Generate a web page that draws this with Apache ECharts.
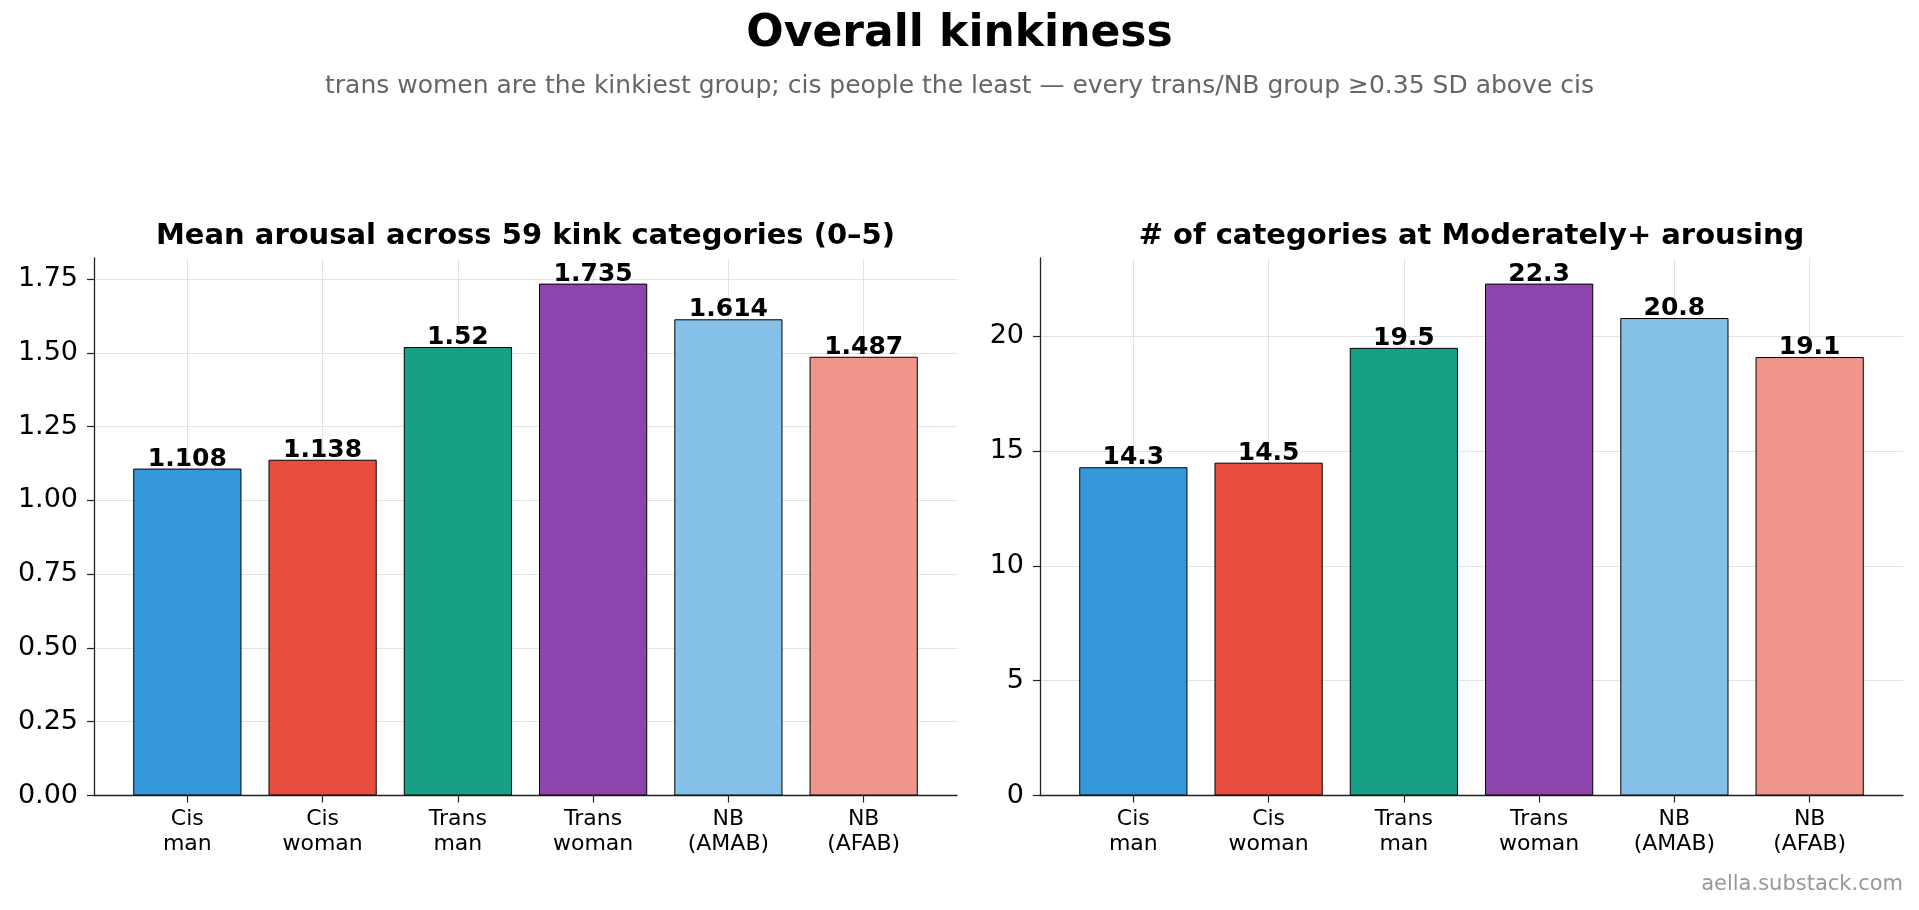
<!DOCTYPE html>
<html>
<head>
<meta charset="utf-8">
<title>Overall kinkiness</title>
<script src="https://cdn.jsdelivr.net/npm/echarts@6/dist/echarts.min.js"></script>
<style>
  html, body { margin: 0; padding: 0; background: #fff; }
  #chart { width: 1919px; height: 910px; }
</style>
</head>
<body>
<div id="chart"></div>
<script>
// data
const categories = ["Cis\nman", "Cis\nwoman", "Trans\nman", "Trans\nwoman", "NB\n(AMAB)", "NB\n(AFAB)"];
const barColors = ["#3498db", "#e74c3c", "#16a085", "#8e44ad", "#85c1e9", "#f1948a"];
const meanArousal = [1.108, 1.138, 1.52, 1.735, 1.614, 1.487];
const moderateCounts = [14.3, 14.5, 19.5, 22.3, 20.8, 19.1];
const meanTicks = [0, 0.25, 0.5, 0.75, 1.0, 1.25, 1.5, 1.75];
const countTicks = [0, 5, 10, 15, 20];

const font = "DejaVu Sans";
const catPositions = categories.map((c, i) => i);
const xMin = -0.69, xMax = 5.69;

const plotTop = 258, plotHeight = 537.5, plotWidth = 863;
const leftX = [94, 1040];
const barWidth = 0.8 * plotWidth / (xMax - xMin);

const chart = echarts.init(document.getElementById("chart"));

function makeX(gridIndex) {
	return {
		type: "value",
		gridIndex: gridIndex,
		min: xMin,
		max: xMax,
		axisLine: { show: true, onZero: false, lineStyle: { color: "#222", width: 1.3 } },
		axisTick: { show: true, customValues: catPositions, length: 7, lineStyle: { color: "#222", width: 1.2 } },
		axisLabel: {
			customValues: catPositions,
			formatter: (v) => categories[Math.round(v)],
			fontFamily: font,
			fontSize: 22,
			lineHeight: 25,
			color: "#000",
			margin: 11,
		},
		splitLine: { show: true, lineStyle: { color: "#e3e3e3", width: 1 } },
	};
}

function makeY(gridIndex, max, ticks, digits) {
	return {
		type: "value",
		gridIndex: gridIndex,
		min: 0,
		max: max,
		axisLine: { show: true, onZero: false, lineStyle: { color: "#222", width: 1.3 } },
		axisTick: { show: true, customValues: ticks, length: 7, lineStyle: { color: "#222", width: 1.2 } },
		axisLabel: {
			customValues: ticks,
			formatter: (v) => v.toFixed(digits),
			fontFamily: font,
			fontSize: 27,
			color: "#000",
			margin: 16,
		},
		splitLine: { show: true, lineStyle: { color: "#e3e3e3", width: 1 } },
	};
}

function makeSeries(values, axisIndex) {
	return {
		type: "bar",
		xAxisIndex: axisIndex,
		yAxisIndex: axisIndex,
		barWidth: barWidth,
		data: values.map((v, i) => ({ value: [i, v], itemStyle: { color: barColors[i] } })),
		itemStyle: { borderColor: "#000", borderWidth: 1 },
		label: {
			show: true,
			position: "top",
			distance: -3,
			formatter: (p) => String(p.value[1]),
			fontFamily: font,
			fontWeight: "bold",
			fontSize: 25,
			color: "#000",
		},
	};
}

function text(x, y, str, size, weight, color, align) {
	return {
		type: "text",
		x: x,
		y: y,
		style: {
			text: str,
			font: weight + " " + size + "px '" + font + "'",
			fill: color,
			textAlign: align || "center",
			textVerticalAlign: "middle",
		},
	};
}

const option = {
	animation: false,
	backgroundColor: "#fff",
	grid: [
		{ left: leftX[0], top: plotTop, width: plotWidth, height: plotHeight },
		{ left: leftX[1], top: plotTop, width: plotWidth, height: plotHeight },
	],
	xAxis: [makeX(0), makeX(1)],
	yAxis: [
		makeY(0, 1.735 * 1.05, meanTicks, 2),
		makeY(1, 22.3 * 1.05, countTicks, 0),
	],
	series: [makeSeries(meanArousal, 0), makeSeries(moderateCounts, 1)],
	graphic: [
		text(959.5, 35, "Overall kinkiness", 44, "bold", "#000"),
		text(959.5, 86, "trans women are the kinkiest group; cis people the least \u2014 every trans/NB group \u22650.35 SD above cis", 25, "normal", "#666"),
		text(leftX[0] + plotWidth / 2, 236, "Mean arousal across 59 kink categories (0\u20135)", 29, "bold", "#000"),
		text(leftX[1] + plotWidth / 2, 236, "# of categories at Moderately+ arousing", 29, "bold", "#000"),
		text(1903, 885, "aella.substack.com", 21, "normal", "#999", "right"),
	],
};

chart.setOption(option);
</script>
</body>
</html>
